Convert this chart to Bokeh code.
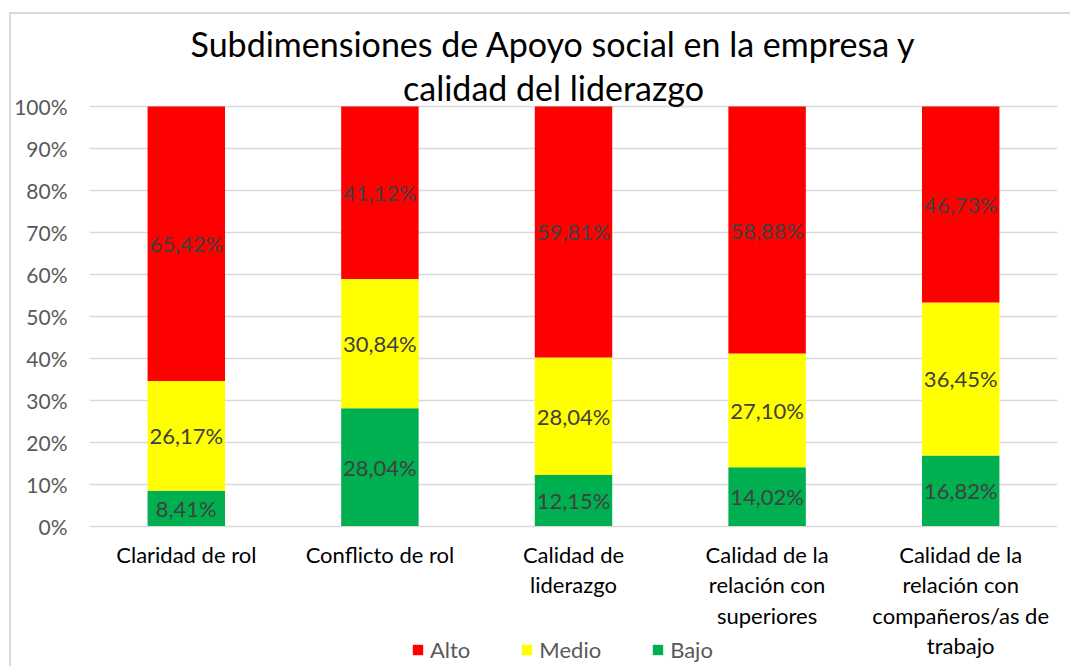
from bokeh.plotting import figure
from bokeh.layouts import column
from bokeh.models import Legend, LegendItem, NumeralTickFormatter, FixedTicker, Range1d, ColumnDataSource
from bokeh.core.properties import value
from bokeh.embed import file_html
from bokeh.resources import INLINE

# ---- data ----
categories = [
    "Claridad de rol",
    "Conflicto de rol",
    "Calidad de\nliderazgo",
    "Calidad de la\nrelación con\nsuperiores",
    "Calidad de la\nrelación con\ncompañeros/as de\ntrabajo",
]
series = ["Bajo", "Medio", "Alto"]
bajo = [0.0841, 0.2804, 0.1215, 0.1402, 0.1682]
medio = [0.2617, 0.3084, 0.2804, 0.2710, 0.3645]
alto = [0.6542, 0.4112, 0.5981, 0.5888, 0.4673]
colors = ["#00B050", "#FFFF00", "#FF0000"]
y_ticks = [0, 0.1, 0.2, 0.3, 0.4, 0.5, 0.6, 0.7, 0.8, 0.9, 1.0]
title_lines = ["Subdimensiones de Apoyo social en la empresa y", "calidad del liderazgo"]

FONT = "Lato"
W, H = 1059, 652
ORIGIN_X, ORIGIN_Y = 11, 14   # page position of canvas top-left
ZERO_Y = 525.5                # page y of 0 %
PX_PER_UNIT = 419.5           # pixels for 100 %


def y_at(page_y):
    return (ZERO_Y - page_y) / PX_PER_UNIT


src = ColumnDataSource(dict(cat=categories, Bajo=bajo, Medio=medio, Alto=alto))

p = figure(x_range=categories, y_range=Range1d(y_at(ORIGIN_Y + H), y_at(ORIGIN_Y)),
           width=W, height=H, output_backend="svg", toolbar_location=None,
           x_axis_location=None,
           min_border_left=89 - ORIGIN_X, min_border_right=ORIGIN_X + W - 1057,
           min_border_top=0, min_border_bottom=0)
p.outline_line_color = None
p.background_fill_color = "white"
p.border_fill_color = "white"

renderers = p.vbar_stack(series, x="cat", width=0.4, color=colors, source=src, line_color=None)

# data labels
xs, ys, txt = [], [], []
for i, c in enumerate(categories):
    base = 0.0
    for vals in (bajo, medio, alto):
        v = vals[i]
        xs.append(c)
        ys.append(base + v / 2)
        txt.append(f"{v*100:.2f}%".replace(".", ","))
        base += v
p.text(x=xs, y=ys, text=txt, text_align="center", text_baseline="middle",
       text_font=value(FONT), text_font_size="22px", text_color="#404040")

# category labels (under the bars)
p.text(x=categories, y=[y_at(540)] * len(categories), text=categories,
       text_align="center", text_baseline="top", text_line_height=1.13,
       text_font=value(FONT), text_font_size="22px", text_color="#000000")

# title
p.text(x=[categories[2]] * 2, y=[y_at(43), y_at(87)], text=title_lines,
       x_offset=-20, text_align="center", text_baseline="alphabetic",
       text_font=value(FONT), text_font_size="34px", text_color="#000000")

# y axis
p.yaxis.ticker = FixedTicker(ticks=y_ticks)
p.yaxis.formatter = NumeralTickFormatter(format="0%")
p.yaxis.bounds = (0, 1)
p.yaxis.axis_line_color = None
p.yaxis.major_tick_line_color = None
p.yaxis.minor_tick_line_color = None
p.yaxis.major_tick_out = 0
p.yaxis.major_tick_in = 0
p.yaxis.major_label_standoff = 22
p.yaxis.major_label_text_font = FONT
p.yaxis.major_label_text_font_size = "21px"
p.yaxis.major_label_text_color = "#595959"

p.xgrid.grid_line_color = None
p.ygrid.ticker = FixedTicker(ticks=y_ticks)
p.ygrid.grid_line_color = "#d9d9d9"
p.ygrid.grid_line_width = 1.5

# legend
items = [LegendItem(label=s, renderers=[r]) for s, r in zip(series, renderers)][::-1]
legend = Legend(items=items, orientation="horizontal", location=(322, 3),
                spacing=50, label_standoff=6, glyph_width=13, glyph_height=13,
                padding=0, margin=0, border_line_color=None, background_fill_alpha=0,
                label_text_font=FONT, label_text_font_size="22px", label_text_color="#595959")
p.add_layout(legend)

layout = column(p, styles={"border-left": "2px solid #d9d9d9", "border-top": "2px solid #d9d9d9",
                           "margin-left": "9px", "margin-top": "12px"})

open("out.html", "w").write(file_html(layout, INLINE))
